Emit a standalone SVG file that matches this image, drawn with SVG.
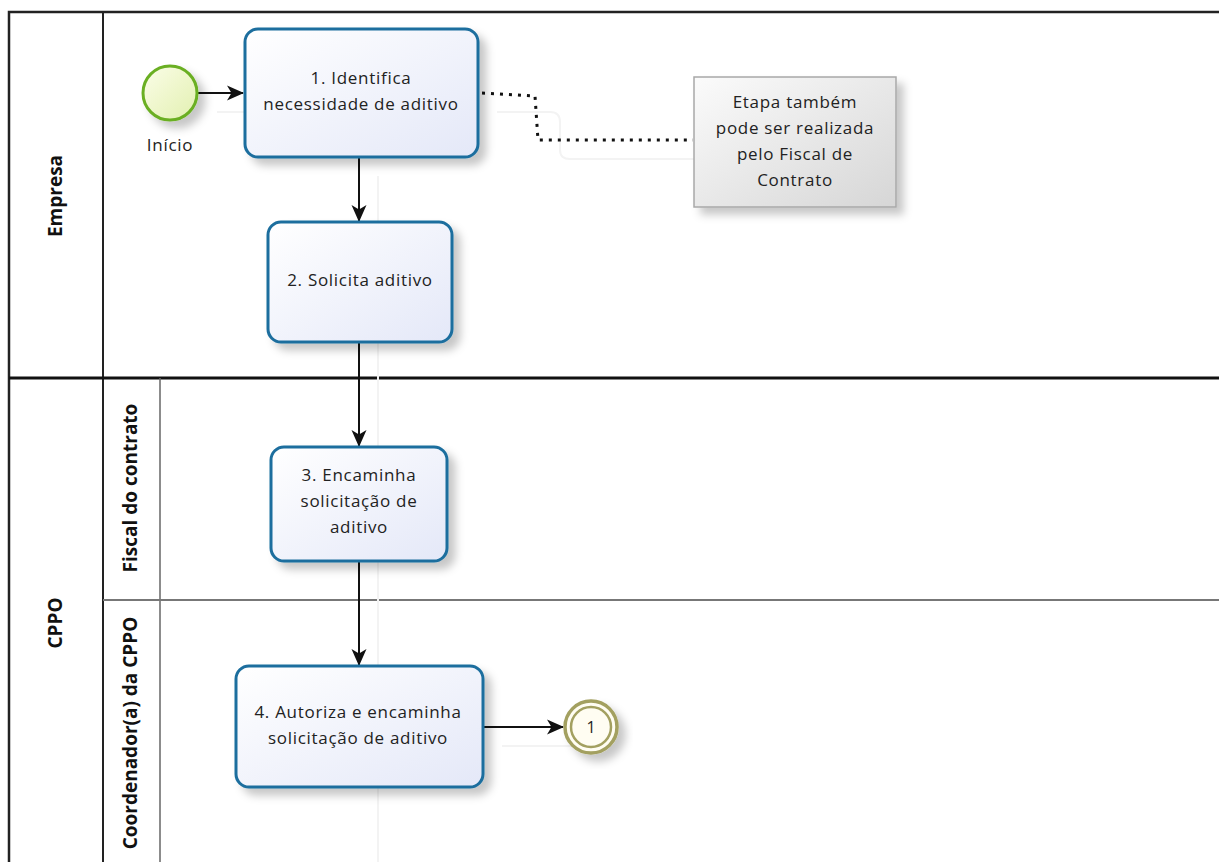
<svg xmlns="http://www.w3.org/2000/svg" width="1219" height="862" viewBox="0 0 1219 862">
<defs>
<linearGradient id="taskFill" x1="0" y1="0" x2="1" y2="1">
<stop offset="0" stop-color="#ffffff"/>
<stop offset="1" stop-color="#e4e8f8"/>
</linearGradient>
<linearGradient id="startFill" x1="0" y1="0" x2="1" y2="1">
<stop offset="0" stop-color="#fbfde8"/>
<stop offset="1" stop-color="#e2f0b0"/>
</linearGradient>
<linearGradient id="noteFill" x1="0" y1="0" x2="1" y2="1">
<stop offset="0" stop-color="#fbfbfb"/>
<stop offset="1" stop-color="#d6d6d6"/>
</linearGradient>
<filter id="shadow" x="-20%" y="-20%" width="150%" height="150%">
<feDropShadow dx="7" dy="7" stdDeviation="4" flood-color="#000" flood-opacity="0.22"/>
</filter>
<marker id="arrow" markerWidth="18" markerHeight="18" refX="16" refY="9" orient="auto" markerUnits="userSpaceOnUse">
<path d="M0,1.5 L17,9 L0,16.5 L4.5,9 Z" fill="#111"/>
</marker>
<style>
.task{fill:url(#taskFill);stroke:#1d6e9e;stroke-width:3;filter:url(#shadow)}
.txt{font-family:"Open Sans","DejaVu Sans",sans-serif;font-size:17px;letter-spacing:0.7px;fill:#222;text-anchor:middle}
.hdr{font-family:"Open Sans","DejaVu Sans",sans-serif;font-size:19px;font-weight:bold;fill:#111;text-anchor:middle}
.flow{fill:none;stroke:#111;stroke-width:2;marker-end:url(#arrow)}
.ghost{fill:none;stroke:#f3f3f3;stroke-width:2}
.assoc{fill:none;stroke:#111;stroke-width:3;stroke-dasharray:3,6}
</style>
</defs>
<rect width="1219" height="862" fill="#ffffff"/>
<g id="pools">
<rect x="9" y="12" width="1230" height="880" fill="none" stroke="#222" stroke-width="2.5"/>
<line x1="103" y1="12" x2="103" y2="880" stroke="#222" stroke-width="2"/>
<line x1="9" y1="378" x2="1230" y2="378" stroke="#111" stroke-width="3"/>
<line x1="160" y1="378" x2="160" y2="880" stroke="#666" stroke-width="1.5"/>
<line x1="103" y1="600" x2="1230" y2="600" stroke="#777" stroke-width="2"/>
<text class="hdr" transform="translate(62,196) rotate(-90)">Empresa</text>
<text class="hdr" transform="translate(62,623) rotate(-90)">CPPO</text>
<text class="hdr" transform="translate(137,488) rotate(-90)">Fiscal do contrato</text>
<text class="hdr" transform="translate(137,733) rotate(-90)">Coordenador(a) da CPPO</text>
</g>
<g id="connectors">
<path class="ghost" d="M217,112 L263,112"/>
<path class="ghost" d="M378,176 L378,862"/>
<path class="ghost" d="M497,112 L550,112 Q560,112 560,122 L560,150 Q560,159 570,159 L712,159"/>
<path class="ghost" d="M502,746 L582,746"/>
<path class="flow" d="M198,93 L243,93"/>
<path class="flow" d="M359,157 L359,221"/>
<path class="flow" d="M359,342 L359,446"/>
<path class="flow" d="M359,561 L359,665"/>
<path class="flow" d="M483,727 L563,727"/>
<path class="assoc" d="M482,93 L535,96 L538,140 L693,140"/>
</g>
<g id="start">
<circle cx="170" cy="93" r="27" fill="url(#startFill)" stroke="#6aaf23" stroke-width="3" filter="url(#shadow)"/>
<text class="txt" x="170" y="151">Início</text>
</g>
<g id="task1">
<rect class="task" x="245" y="29" width="233" height="128" rx="13"/>
<text class="txt" x="361" y="84">1. Identifica</text>
<text class="txt" x="361" y="110">necessidade de aditivo</text>
</g>
<g id="task2">
<rect class="task" x="268" y="222" width="184" height="120" rx="13"/>
<text class="txt" x="360" y="286">2. Solicita aditivo</text>
</g>
<g id="task3">
<rect class="task" x="271" y="447" width="176" height="114" rx="13"/>
<text class="txt" x="359" y="481">3.  Encaminha</text>
<text class="txt" x="359" y="507">solicitação de</text>
<text class="txt" x="359" y="533">aditivo</text>
</g>
<g id="task4">
<rect class="task" x="236" y="666" width="247" height="121" rx="13"/>
<text class="txt" x="358" y="718">4. Autoriza e encaminha</text>
<text class="txt" x="358" y="744">solicitação de aditivo</text>
</g>
<g id="end">
<circle cx="591" cy="727" r="26" fill="#fffdf2" stroke="#a3a060" stroke-width="3.5" filter="url(#shadow)"/>
<circle cx="591" cy="727" r="20" fill="none" stroke="#a3a060" stroke-width="2.5"/>
<text class="txt" x="591" y="733" style="font-size:16px;letter-spacing:0">1</text>
</g>
<g id="note">
<rect x="694" y="77" width="202" height="130" fill="url(#noteFill)" stroke="#a8a8a8" stroke-width="1.5" filter="url(#shadow)"/>
<text class="txt" x="795" y="108">Etapa também</text>
<text class="txt" x="795" y="134">pode ser realizada</text>
<text class="txt" x="795" y="160">pelo Fiscal de</text>
<text class="txt" x="795" y="186">Contrato</text>
</g>
</svg>
